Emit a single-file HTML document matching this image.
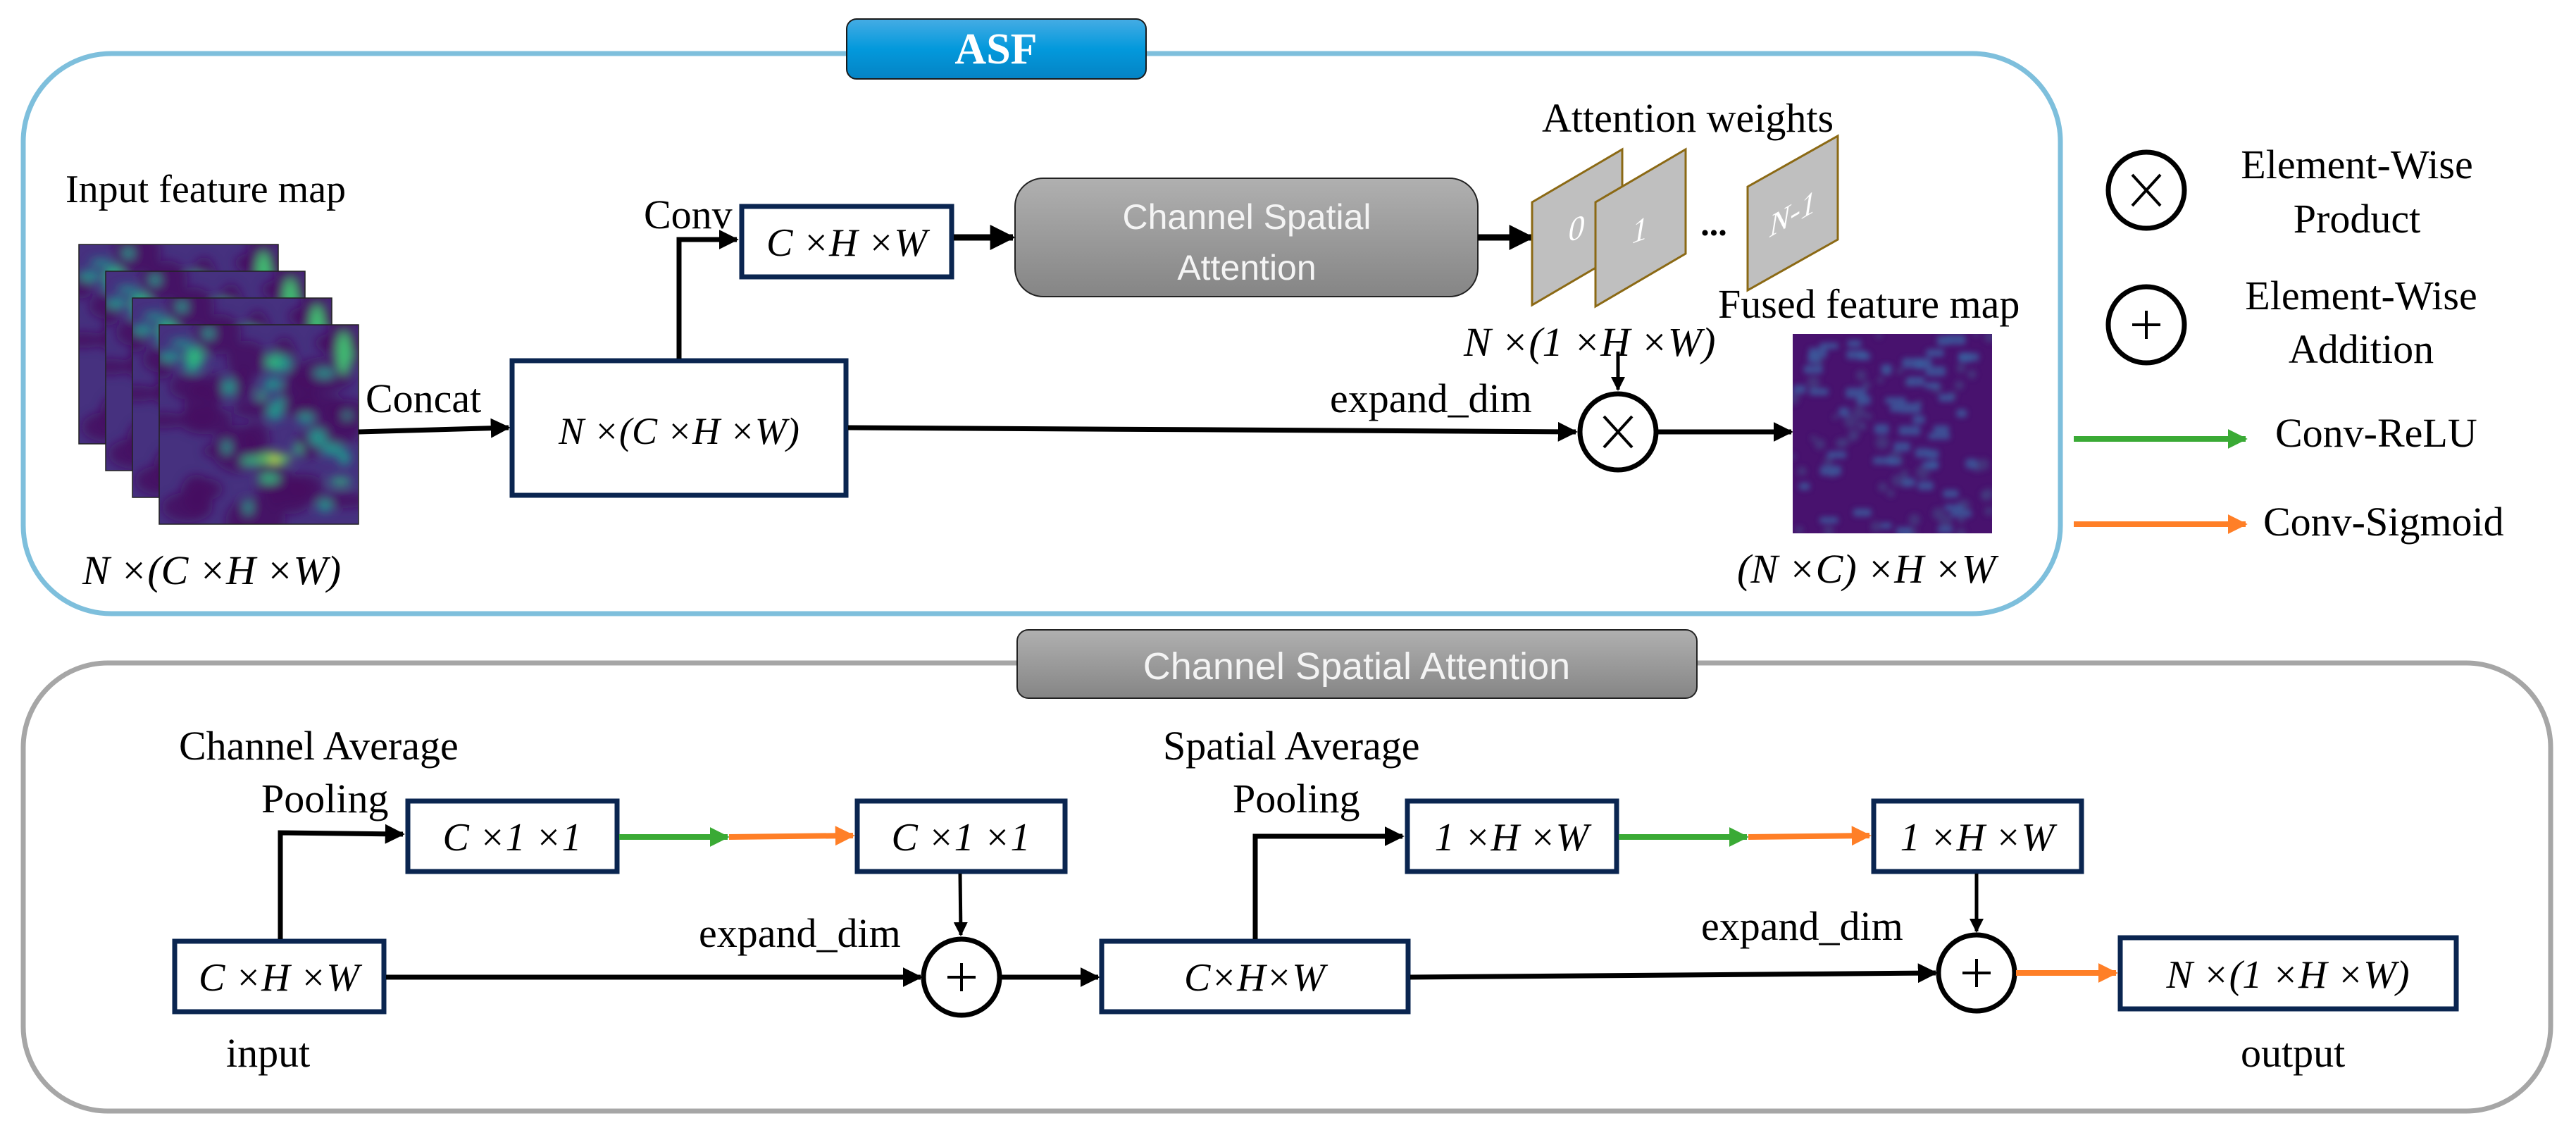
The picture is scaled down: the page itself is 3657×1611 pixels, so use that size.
<!DOCTYPE html>
<html><head><meta charset="utf-8"><style>
html,body{margin:0;padding:0;background:#fff;}
svg{display:block}
.t{font-family:"Liberation Serif",serif;fill:#000}
.i{font-family:"Liberation Serif",serif;font-style:italic;fill:#000}
.s{font-family:"Liberation Sans",sans-serif;fill:#f4f4f4}
</style></head><body>
<svg id="sv" width="3657" height="1611" viewBox="0 0 3657 1611" xmlns="http://www.w3.org/2000/svg">
<defs>
<marker id="ah" viewBox="0 0 10 10" refX="9" refY="5" markerWidth="4" markerHeight="4" orient="auto"><path d="M0,0L10,5L0,10z" fill="#000"/></marker>
<marker id="ag" viewBox="0 0 10 10" refX="9" refY="5" markerWidth="3.5" markerHeight="4" orient="auto"><path d="M0,0L10,5L0,10z" fill="#3aaa35"/></marker>
<marker id="ao" viewBox="0 0 10 10" refX="9" refY="5" markerWidth="3.5" markerHeight="4" orient="auto"><path d="M0,0L10,5L0,10z" fill="#ff7f27"/></marker>
<linearGradient id="gb" x1="0" y1="0" x2="0" y2="1"><stop offset="0" stop-color="#45ace4"/><stop offset="0.5" stop-color="#0399dc"/><stop offset="1" stop-color="#0583c4"/></linearGradient>
<linearGradient id="gg" x1="0" y1="0" x2="0" y2="1"><stop offset="0" stop-color="#b0b0b0"/><stop offset="1" stop-color="#858585"/></linearGradient>
<filter id="bl" x="-10%" y="-10%" width="120%" height="120%"><feGaussianBlur stdDeviation="7"/></filter>
<filter id="bl2" x="-10%" y="-10%" width="120%" height="120%"><feGaussianBlur stdDeviation="4"/></filter>
<clipPath id="cm"><rect x="0" y="0" width="283" height="283"/></clipPath>
<clipPath id="cf"><rect x="0" y="0" width="283" height="283"/></clipPath>
</defs>

<rect x="33" y="76" width="2892" height="795" rx="125" fill="none" stroke="#7ebfdc" stroke-width="7"/>
<rect x="1202" y="27" width="425" height="85" rx="14" fill="url(#gb)" stroke="#1a1a1a" stroke-width="2"/>
<text x="1414" y="90" text-anchor="middle" class="t" style="fill:#fff;font-weight:bold;font-size:62px">ASF</text>

<text x="93" y="287" class="t" font-size="56">Input feature map</text>
<g id="maps"></g>
<text x="117" y="829" class="i" font-size="58">N ×(C ×H ×W)</text>

<line x1="509" y1="613" x2="722" y2="607" stroke="#000" stroke-width="7" marker-end="url(#ah)"/>
<text x="519" y="585" class="t" font-size="58">Concat</text>
<rect x="727" y="512" width="474" height="191" fill="#fff" stroke="#0a2550" stroke-width="7"/>
<text x="964" y="630" text-anchor="middle" class="i" font-size="54">N ×(C ×H ×W)</text>

<polyline points="964,509 964,340 1046,340" fill="none" stroke="#000" stroke-width="7" marker-end="url(#ah)"/>
<text x="914" y="324" class="t" font-size="58">Conv</text>
<rect x="1053" y="293" width="298" height="100" fill="#fff" stroke="#0a2550" stroke-width="7"/>
<text x="1202" y="363" text-anchor="middle" class="i" font-size="56">C ×H ×W</text>
<line x1="1354" y1="337" x2="1438" y2="337" stroke="#000" stroke-width="9" marker-end="url(#ah)"/>
<rect x="1441" y="253" width="657" height="168" rx="40" fill="url(#gg)" stroke="#222" stroke-width="2"/>
<text x="1770" y="325" text-anchor="middle" class="s" font-size="50">Channel Spatial</text>
<text x="1770" y="397" text-anchor="middle" class="s" font-size="50">Attention</text>
<line x1="2098" y1="337" x2="2175" y2="337" stroke="#000" stroke-width="9" marker-end="url(#ah)"/>

<text x="2189" y="187" class="t" font-size="58">Attention weights</text>
<polygon points="2175,287 2303,212 2303,358 2175,433" fill="#bfbfbf" stroke="#8b6914" stroke-width="3"/>
<polygon points="2265,287 2393,212 2393,360 2265,435" fill="#bfbfbf" stroke="#8b6914" stroke-width="3"/>
<polygon points="2481,265 2609,193 2609,340 2481,412" fill="#bfbfbf" stroke="#8b6914" stroke-width="3"/>
<text x="2238" y="340" text-anchor="middle" class="i" style="fill:#fff" font-size="46" transform="skewY(-20) translate(0,814)">0</text>
<text x="2328" y="342" text-anchor="middle" class="i" style="fill:#fff" font-size="46" transform="skewY(-20) translate(0,847)">1</text>
<text x="2545" y="318" text-anchor="middle" class="i" style="fill:#fff" font-size="44" transform="skewY(-30) translate(0,1469)">N-1</text>
<text x="2433" y="334" text-anchor="middle" class="t" font-size="50" font-weight="bold">...</text>
<text x="2078" y="505" class="i" font-size="58">N ×(1 ×H ×W)</text>
<line x1="2297" y1="499" x2="2297" y2="553" stroke="#000" stroke-width="5" marker-end="url(#ah)"/>

<line x1="1204" y1="607" x2="2237" y2="613" stroke="#000" stroke-width="7" marker-end="url(#ah)"/>
<text x="1888" y="585" class="t" font-size="58">expand_dim</text>
<circle cx="2297" cy="613" r="54" fill="#fff" stroke="#000" stroke-width="7"/>
<path d="M2277,591L2317,635M2317,591L2277,635" stroke="#000" stroke-width="4"/>
<line x1="2351" y1="613" x2="2543" y2="613" stroke="#000" stroke-width="7" marker-end="url(#ah)"/>
<text x="2439" y="451" class="t" font-size="58">Fused feature map</text>
<g id="fused"></g>
<text x="2466" y="827" class="i" font-size="58">(N ×C) ×H ×W</text>

<circle cx="3047" cy="270" r="54" fill="#fff" stroke="#000" stroke-width="7"/>
<path d="M3027,248L3067,292M3067,248L3027,292" stroke="#000" stroke-width="4"/>
<text x="3346" y="253" text-anchor="middle" class="t" font-size="58">Element-Wise</text>
<text x="3346" y="330" text-anchor="middle" class="t" font-size="58">Product</text>
<circle cx="3047" cy="461" r="54" fill="#fff" stroke="#000" stroke-width="7"/>
<path d="M3047,441V481M3027,461H3067" stroke="#000" stroke-width="4"/>
<text x="3352" y="439" text-anchor="middle" class="t" font-size="58">Element-Wise</text>
<text x="3352" y="515" text-anchor="middle" class="t" font-size="58">Addition</text>
<line x1="2944" y1="623" x2="3188" y2="623" stroke="#3aaa35" stroke-width="8" marker-end="url(#ag)"/>
<text x="3230" y="634" class="t" font-size="58">Conv-ReLU</text>
<line x1="2944" y1="744" x2="3188" y2="744" stroke="#ff7f27" stroke-width="8" marker-end="url(#ao)"/>
<text x="3213" y="760" class="t" font-size="58">Conv-Sigmoid</text>

<rect x="33" y="941" width="3588" height="636" rx="120" fill="none" stroke="#a6a6a6" stroke-width="7"/>
<rect x="1444" y="894" width="965" height="97" rx="16" fill="url(#gg)" stroke="#222" stroke-width="2"/>
<text x="1926" y="964" text-anchor="middle" class="s" font-size="54">Channel Spatial Attention</text>

<text x="254" y="1078" class="t" font-size="58">Channel Average</text>
<text x="371" y="1153" class="t" font-size="58">Pooling</text>
<rect x="248" y="1336" width="297" height="100" fill="#fff" stroke="#0a2550" stroke-width="7"/>
<text x="396" y="1406" text-anchor="middle" class="i" font-size="56">C ×H ×W</text>
<text x="321" y="1514" class="t" font-size="58">input</text>
<polyline points="398,1333 398,1182 572,1184" fill="none" stroke="#000" stroke-width="7" marker-end="url(#ah)"/>
<rect x="579" y="1137" width="297" height="100" fill="#fff" stroke="#0a2550" stroke-width="7"/>
<text x="727" y="1207" text-anchor="middle" class="i" font-size="56">C ×1 ×1</text>
<line x1="879" y1="1188" x2="1033" y2="1188" stroke="#3aaa35" stroke-width="8" marker-end="url(#ag)"/>
<line x1="1035" y1="1188" x2="1211" y2="1186" stroke="#ff7f27" stroke-width="8" marker-end="url(#ao)"/>
<rect x="1217" y="1137" width="295" height="100" fill="#fff" stroke="#0a2550" stroke-width="7"/>
<text x="1364" y="1207" text-anchor="middle" class="i" font-size="56">C ×1 ×1</text>
<line x1="1363" y1="1240" x2="1364" y2="1327" stroke="#000" stroke-width="5" marker-end="url(#ah)"/>
<line x1="548" y1="1387" x2="1307" y2="1387" stroke="#000" stroke-width="7" marker-end="url(#ah)"/>
<text x="992" y="1344" class="t" font-size="58">expand_dim</text>
<circle cx="1365" cy="1387" r="54" fill="#fff" stroke="#000" stroke-width="7"/>
<path d="M1365,1367V1407M1345,1387H1385" stroke="#000" stroke-width="4"/>
<line x1="1419" y1="1387" x2="1559" y2="1387" stroke="#000" stroke-width="7" marker-end="url(#ah)"/>
<rect x="1564" y="1336" width="435" height="100" fill="#fff" stroke="#0a2550" stroke-width="7"/>
<text x="1781" y="1406" text-anchor="middle" class="i" font-size="56">C×H×W</text>

<text x="1651" y="1078" class="t" font-size="58">Spatial Average</text>
<text x="1750" y="1153" class="t" font-size="58">Pooling</text>
<polyline points="1782,1333 1782,1187 1991,1187" fill="none" stroke="#000" stroke-width="7" marker-end="url(#ah)"/>
<rect x="1998" y="1137" width="297" height="100" fill="#fff" stroke="#0a2550" stroke-width="7"/>
<text x="2146" y="1207" text-anchor="middle" class="i" font-size="56">1 ×H ×W</text>
<line x1="2298" y1="1188" x2="2480" y2="1188" stroke="#3aaa35" stroke-width="8" marker-end="url(#ag)"/>
<line x1="2482" y1="1188" x2="2654" y2="1186" stroke="#ff7f27" stroke-width="8" marker-end="url(#ao)"/>
<rect x="2660" y="1137" width="295" height="100" fill="#fff" stroke="#0a2550" stroke-width="7"/>
<text x="2807" y="1207" text-anchor="middle" class="i" font-size="56">1 ×H ×W</text>
<line x1="2806" y1="1240" x2="2806" y2="1322" stroke="#000" stroke-width="5" marker-end="url(#ah)"/>
<line x1="2002" y1="1387" x2="2748" y2="1381" stroke="#000" stroke-width="7" marker-end="url(#ah)"/>
<text x="2415" y="1334" class="t" font-size="58">expand_dim</text>
<circle cx="2806" cy="1381" r="54" fill="#fff" stroke="#000" stroke-width="7"/>
<path d="M2806,1361V1401M2786,1381H2826" stroke="#000" stroke-width="4"/>
<line x1="2862" y1="1381" x2="3004" y2="1381" stroke="#ff7f27" stroke-width="8" marker-end="url(#ao)"/>
<rect x="3010" y="1331" width="477" height="101" fill="#fff" stroke="#0a2550" stroke-width="7"/>
<text x="3248" y="1402" text-anchor="middle" class="i" font-size="56">N ×(1 ×H ×W)</text>
<text x="3181" y="1514" class="t" font-size="58">output</text>
</svg>
<script>
(function(){
var NS="http://www.w3.org/2000/svg";
var s=12345;function r(){s=(s*16807)%2147483647;return s/2147483647;}
function el(t,a,p){var e=document.createElementNS(NS,t);for(var k in a)e.setAttribute(k,a[k]);p.appendChild(e);return e;}
var maps=document.getElementById('maps');
var pos=[[112,347],[150,385],[188,423],[226,461]];
for(var m=0;m<4;m++){
 var g=el('g',{transform:'translate('+pos[m][0]+','+pos[m][1]+')'},maps);
 var c=el('g',{'clip-path':'url(#cm)'},g);
 el('rect',{x:0,y:0,width:283,height:283,fill:'#46317f'},c);
 var b=el('g',{filter:'url(#bl)'},c);
 s=777;
 for(var i=0;i<35;i++){el('ellipse',{cx:r()*283,cy:r()*283,rx:15+r()*30,ry:10+r()*25,fill:'#470d62',opacity:0.85},b);}
 for(var i=0;i<28;i++){var x=r()*283,y=r()*283;el('ellipse',{cx:x,cy:y,rx:6+r()*10,ry:5+r()*8,fill:(r()<0.25?'#2fb07e':'#22928c')},b);}
 el('ellipse',{cx:262,cy:40,rx:10,ry:30,fill:'#40bd72'},b);
 if(m==3){el('ellipse',{cx:163,cy:190,rx:25,ry:7,fill:'#5ec962'},b);el('circle',{cx:164,cy:191,r:5,fill:'#e5e419'},b);}
 el('rect',{x:0,y:0,width:283,height:283,fill:'none',stroke:'#222',"stroke-width":1.5},g);
}
var f=document.getElementById('fused');
var g=el('g',{transform:'translate(2545,474)'},f);
var c=el('g',{'clip-path':'url(#cf)'},g);
el('rect',{x:0,y:0,width:283,height:283,fill:'#48126e'},c);
var b=el('g',{filter:'url(#bl2)'},c);
s=4242;
for(var i=0;i<60;i++){el('circle',{cx:r()*283,cy:r()*283,r:4+r()*6,fill:'#453f80',opacity:0.7},b);}
for(var i=0;i<55;i++){el('rect',{x:r()*270,y:r()*275,width:14+r()*18,height:9+r()*6,rx:4,fill:'#3b5c9e',opacity:0.8},b);}
})();
</script>
</body></html>
